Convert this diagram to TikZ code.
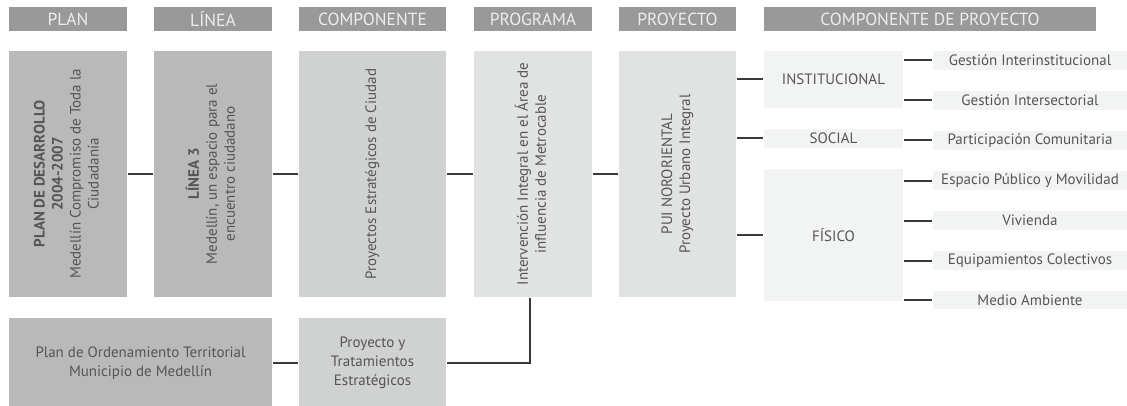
\documentclass[tikz,border=0pt]{standalone}
\usepackage{fontspec}
\usepackage{graphicx}
\setmainfont{PT Sans}
\usetikzlibrary{positioning}

\definecolor{headgray}{HTML}{999999}
\definecolor{darkbox}{HTML}{B9B9B9}
\definecolor{midbox}{HTML}{D0D1D1}
\definecolor{lightbox}{HTML}{E1E2E2}
\definecolor{paleBox}{HTML}{F2F3F3}
\definecolor{txtgray}{HTML}{555555}
\definecolor{linegray}{HTML}{3A3A3A}

\newcommand{\vtext}[1]{\rotatebox{90}{\renewcommand{\arraystretch}{1.0}\begin{tabular}{@{}c@{}}#1\end{tabular}}}

\begin{document}
\begin{tikzpicture}[x=1pt,y=1pt,line width=2pt,
    head/.style={fill=headgray,text=white!93!black,inner sep=0pt,minimum height=24pt,
        font=\fontsize{17.5}{19}\selectfont},
    tallbox/.style={inner sep=0pt,minimum height=246pt,text=txtgray,
        font=\fontsize{15}{18}\selectfont},
    lowbox/.style={inner sep=0pt,minimum height=90pt,text=txtgray,align=center,
        font=\fontsize{15}{19}\selectfont},
    subbox/.style={fill=paleBox,inner sep=0pt,text=txtgray,
        font=\fontsize{15}{18}\selectfont},
    link/.style={draw=linegray}]
\useasboundingbox (0,0) rectangle (1127,405);

% column headers
\node[head,minimum width=118pt] (hplan) at (68,386) {PLAN};
\node[head,minimum width=118pt] (hlinea) at (213,386) {LÍNEA};
\node[head,minimum width=147pt] (hcomp) at (372.5,386) {COMPONENTE};
\node[head,minimum width=118pt] (hprog) at (533,386) {PROGRAMA};
\node[head,minimum width=117pt] (hproy) at (677.5,386) {PROYECTO};
\node[head,minimum width=332pt] (hcdp) at (930,386) {COMPONENTE DE PROYECTO};

% main chain
\node[tallbox,fill=darkbox,minimum width=118pt,below=18pt of hplan] (plan)
    {\vtext{\textbf{PLAN DE DESARROLLO}\\ \textbf{2004-2007}\\ Medellín Compromiso de Toda la\\ Ciudadanía}};
\node[tallbox,fill=darkbox,minimum width=118pt,below=18pt of hlinea] (linea)
    {\vtext{\textbf{LÍNEA 3}\\ Medellín, un espacio para el\\ encuentro ciudadano}};
\node[tallbox,fill=midbox,minimum width=147pt,below=18pt of hcomp] (comp)
    {\vtext{Proyectos Estratégicos de Ciudad}};
\node[tallbox,fill=lightbox,minimum width=118pt,below=18pt of hprog] (prog)
    {\vtext{Intervención Integral en el Área de\\ influencia de Metrocable}};
\node[tallbox,fill=lightbox,minimum width=117pt,below=18pt of hproy] (proy)
    {\vtext{PUI NORORIENTAL\\ Proyecto Urbano Integral}};

% lower row
\node[lowbox,fill=darkbox,minimum width=263pt,below=19pt of plan.south west,anchor=north west] (pot)
    {Plan de Ordenamiento Territorial\\ Municipio de Medellín};
\node[lowbox,fill=midbox,minimum width=147pt,below=19pt of comp] (trat)
    {Proyecto y\\ Tratamientos\\ Estratégicos};

% componentes
\node[subbox,minimum width=139pt,minimum height=57pt,below=18pt of hcdp.south west,anchor=north west] (inst) {INSTITUCIONAL};
\node[subbox,minimum width=139pt,minimum height=19pt,below=19pt of inst] (social) {SOCIAL};
\node[subbox,minimum width=139pt,minimum height=132pt,below=19pt of social] (fisico) {FÍSICO};

\node[subbox,minimum width=194pt,minimum height=19pt,right=28pt of inst.north east,anchor=north west] (gi) {Gestión Interinstitucional};
\node[subbox,minimum width=194pt,minimum height=19pt,below=19pt of gi] (gs) {Gestión Intersectorial};
\node[subbox,minimum width=194pt,minimum height=19pt,below=19pt of gs] (pc) {Participación Comunitaria};
\node[subbox,minimum width=194pt,minimum height=19pt,below=19pt of pc] (ep) {Espacio Público y Movilidad};
\node[subbox,minimum width=194pt,minimum height=19pt,below=19pt of ep] (viv) {Vivienda};
\node[subbox,minimum width=194pt,minimum height=19pt,below=19pt of viv] (eq) {Equipamientos Colectivos};
\node[subbox,minimum width=194pt,minimum height=18pt,below=19pt of eq] (ma) {Medio Ambiente};

% connectors
\draw[link] (plan) -- (linea);
\draw[link] (linea) -- (comp);
\draw[link] (comp) -- (prog);
\draw[link] (prog) -- (proy);
\draw[link] (pot) -- (trat);
\draw[link] (trat.east) -| ([xshift=-3pt]prog.south);
\draw[link] (proy.east |- inst.west) -- (inst.west);
\draw[link] (proy.east |- social.west) -- (social.west);
\draw[link] (proy.east |- fisico.west) -- (fisico.west);
\foreach \c in {gi,gs}
    \draw[link] (inst.east |- \c.west) -- (\c.west);
\draw[link] (social.east |- pc.west) -- (pc.west);
\foreach \c in {ep,viv,eq,ma}
    \draw[link] (fisico.east |- \c.west) -- (\c.west);
\end{tikzpicture}
\end{document}
